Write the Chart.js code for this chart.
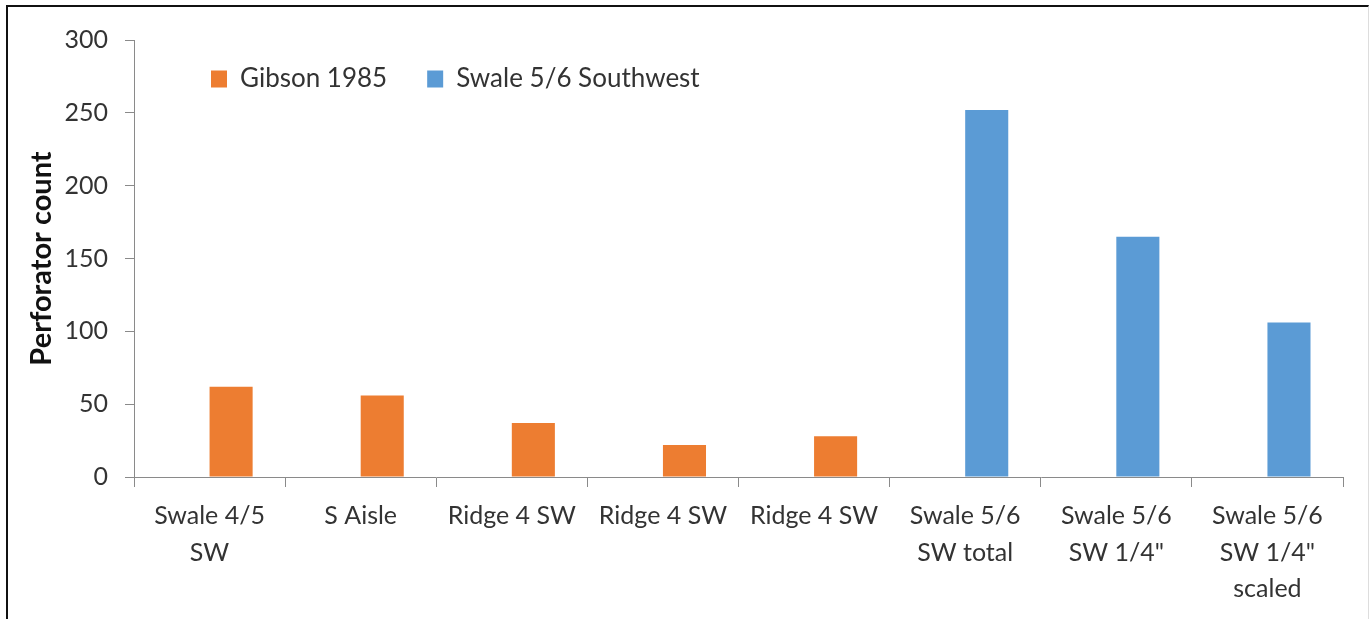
<!DOCTYPE html>
<html>
<head>
<meta charset="utf-8">
<script src="https://cdn.jsdelivr.net/npm/chart.js@4/dist/chart.umd.min.js"></script>
<style>
  html, body { margin: 0; padding: 0; background: #fff; overflow: hidden; }
  #wrap { position: relative; width: 1369px; height: 619px; }
  #frame {
    position: absolute; left: 6px; top: 5px; width: 1360px; height: 640px;
    border-left: 2px solid #111; border-top: 2px solid #111; border-right: 1px solid #ddd;
    pointer-events: none;
  }
  canvas { position: absolute; left: 0; top: 0; }
</style>
</head>
<body>
<div id="wrap">
  <canvas id="perfChart" width="1369" height="619"></canvas>
  <div id="frame"></div>
</div>
<script>
const categories = [
  ["Swale 4/5", "SW"],
  "S Aisle",
  "Ridge 4 SW",
  "Ridge 4 SW",
  "Ridge 4 SW",
  ["Swale 5/6", "SW total"],
  ["Swale 5/6", "SW 1/4\""],
  ["Swale 5/6", "SW 1/4\"", "scaled"]
];
const gibsonValues = [62, 56, 37, 22, 28, null, null, null];
const swaleValues = [null, null, null, null, null, 252, 165, 106];
// empty slot that Excel keeps to the left of each bar
const emptySlot = [null, null, null, null, null, null, null, null];
const yTicks = [0, 50, 100, 150, 200, 250, 300];

const textColor = "#333333";
const axisColor = "#8a8a8a";
const fontFamily = "Lato, 'Open Sans', Arial, sans-serif";

Chart.defaults.font.family = fontFamily;
Chart.defaults.color = textColor;

// legend sits inside the plot, upper left, as in the original
const legendPlace = {
  id: "legendPlace",
  afterLayout(chart) {
    const lg = chart.legend;
    if (!lg) return;
    const area = chart.chartArea;
    const pad = lg.options.labels.padding;
    lg.left = area.left + 77 - pad;
    lg.right = area.right;
    lg.width = lg.right - lg.left;
    lg.top = area.top + 26 - pad;
    lg.bottom = lg.top + 120;
    lg.height = 120;
  }
};

const ctx = document.getElementById("perfChart");
new Chart(ctx, {
  type: "bar",
  data: {
    labels: categories,
    datasets: [
      { label: "", data: emptySlot, stack: "gap", backgroundColor: "rgba(0,0,0,0)" },
      { label: "Gibson 1985", data: gibsonValues, stack: "main", backgroundColor: "#ed7d31" },
      { label: "Swale 5/6 Southwest", data: swaleValues, stack: "main", backgroundColor: "#5b9bd5" }
    ]
  },
  options: {
    responsive: false,
    animation: false,
    categoryPercentage: 0.57,
    barPercentage: 1.0,
    layout: { padding: { left: 0, top: 39, right: 26, bottom: 0 } },
    plugins: {
      tooltip: { enabled: false },
      legend: {
        position: "top",
        align: "start",
        maxHeight: 1,
        labels: {
          filter: item => item.text !== "",
          boxWidth: 16,
          boxHeight: 17,
          padding: 40,
          color: textColor,
          font: { size: 26 }
        }
      }
    },
    scales: {
      x: {
        afterFit: scale => { scale.height = 142; },
        grid: { drawOnChartArea: false, drawTicks: true, tickLength: 10, color: axisColor, offset: true },
        border: { color: axisColor, width: 1 },
        ticks: {
          autoSkip: false,
          maxRotation: 0,
          minRotation: 0,
          padding: 11,
          color: textColor,
          font: { size: 25, lineHeight: 1.46 }
        }
      },
      y: {
        min: 0,
        max: 300,
        afterFit: scale => { scale.width = 134; },
        afterBuildTicks: scale => { scale.ticks = yTicks.map(v => ({ value: v })); },
        grid: { drawOnChartArea: false, drawTicks: true, tickLength: 9, color: axisColor },
        border: { color: axisColor, width: 1 },
        ticks: { padding: 17, color: textColor, font: { size: 25 } },
        title: {
          display: true,
          text: "Perforator count",
          color: "#111111",
          padding: { top: 24, bottom: 0 },
          font: { size: 29, weight: "bold" }
        }
      }
    }
  },
  plugins: [legendPlace]
});
</script>
</body>
</html>
